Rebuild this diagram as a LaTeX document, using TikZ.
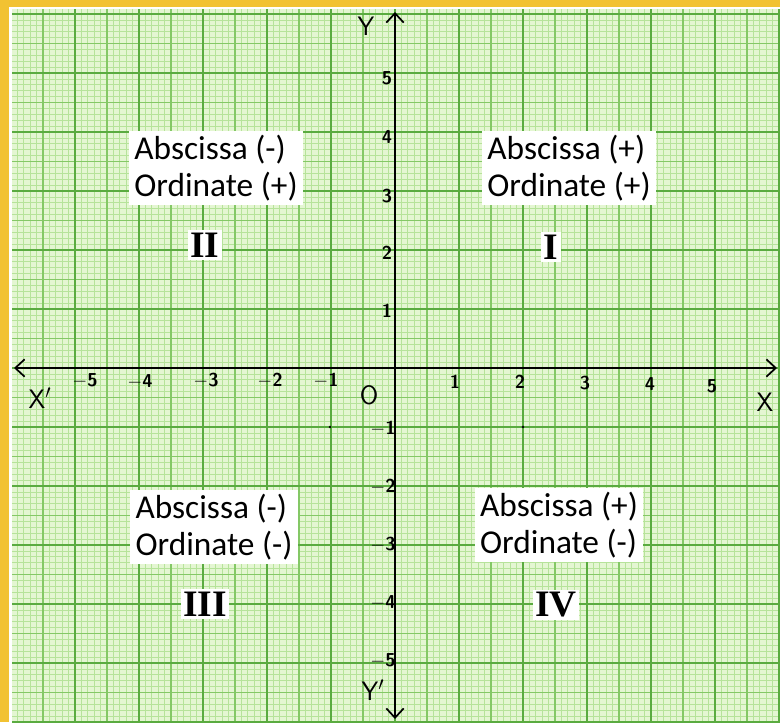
\documentclass[tikz,border=0pt]{standalone}
\usepackage{fontspec}
\setmainfont{Carlito}
\newfontfamily\numfont{Liberation Serif}
\usetikzlibrary{arrows.meta}
\definecolor{paper}{HTML}{E4F6D2}
\definecolor{fineline}{HTML}{B6E39A}
\definecolor{midline}{HTML}{84C866}
\definecolor{majline}{HTML}{5AAB40}
\definecolor{frame}{HTML}{F2C232}
\tikzset{
  fine/.style={fineline, line width=0.6pt},
  mid/.style={midline, line width=0.85pt},
  maj/.style={majline, line width=1.15pt},
  axisline/.style={black, line width=1.6pt, {Straight Barb[length=7pt,width=13pt,line width=1.3pt]}-{Straight Barb[length=7pt,width=13pt,line width=1.3pt]}},
  infobox/.style={fill=white, inner xsep=4pt, inner ysep=3pt, align=left, font=\fontsize{25}{28}\selectfont},
  quad/.style={fill=white, inner sep=2pt, font=\numfont\bfseries\fontsize{28}{28}\selectfont},
  tick/.style={inner sep=0pt, font=\sffamily\bfseries\fontsize{14}{14}\selectfont},
  axlabel/.style={inner sep=0pt, font=\sffamily\fontsize{20}{20}\selectfont}
}
\begin{document}
\begin{tikzpicture}[x=0.75pt,y=-0.75pt]
\useasboundingbox (0,0) rectangle (780,722);
\fill[frame] (0,0) rectangle (780,722);
\fill[white] (9,7) rectangle (780,722);
\fill[paper] (12,9) rectangle (780,722);
\begin{scope}
\clip (12,9) rectangle (780,722);
\foreach \i in {-60,...,60} {\draw[fine] ({395+6.4*\i},0) -- ({395+6.4*\i},722);}
\foreach \j in {-62,...,61} {\draw[fine] (0,{368+5.9*\j}) -- (780,{368+5.9*\j});}
\foreach \i in {-12,...,12} {\draw[mid] ({395+32*\i},0) -- ({395+32*\i},722);}
\foreach \j in {-13,...,12} {\draw[mid] (0,{368+29.5*\j}) -- (780,{368+29.5*\j});}
\foreach \i in {-6,...,6} {\draw[maj] ({395+64*\i},0) -- ({395+64*\i},722);}
\foreach \j in {-6,...,6} {\draw[maj] (0,{368+59*\j}) -- (780,{368+59*\j});}
\end{scope}
% axes
\coordinate (xl) at (14,368);
\coordinate (xr) at (777,368);
\coordinate (yt) at (395,12);
\coordinate (yb) at (395,719);
\draw[axisline] (xl) -- (xr);
\draw[axisline] (yb) -- (yt);
% small marks
\fill (330,427) circle (1.3);
\fill (523,427) circle (1.3);
% axis labels
\node[axlabel] (Y) at (366,26) {Y};
\node[axlabel] (Yp) at (373,690) {Y$'$};
\node[axlabel] (X) at (765,402) {X};
\node[axlabel] (Xp) at (40,398) {X$'$};
\node[axlabel] (O) at (369,395) {O};
% x ticks
\node[tick] (xm5) at (85,381) {$-$5};
\node[tick] (xm4) at (140,382) {$-$4};
\node[tick] (xm3) at (206,381) {$-$3};
\node[tick] (xm2) at (270,381) {$-$2};
\node[tick] (xm1) at (326,381) {$-$1};
\node[tick] (x1) at (455,382) {1};
\node[tick] (x2) at (520,382) {2};
\node[tick] (x3) at (585,383) {3};
\node[tick] (x4) at (650,384) {4};
\node[tick] (x5) at (712,386) {5};
% y ticks
\node[tick] (y5) at (387,78) {5};
\node[tick] (y4) at (387,137) {4};
\node[tick] (y3) at (387,196) {3};
\node[tick] (y2) at (387,253) {2};
\node[tick] (y1) at (387,311) {1};
\node[tick] (ym1) at (383,429) {$-$1};
\node[tick] (ym2) at (383,487) {$-$2};
\node[tick] (ym3) at (383,545) {$-$3};
\node[tick] (ym4) at (383,603) {$-$4};
\node[tick] (ym5) at (383,661) {$-$5};
% quadrant boxes
\node[infobox] (q2) at (216,168) {Abscissa (-)\\Ordinate (+)};
\node[infobox] (q1) at (569,168) {Abscissa (+)\\Ordinate (+)};
\node[infobox] (q3) at (214,527) {Abscissa (-)\\Ordinate (-)};
\node[infobox] (q4) at (559,525) {Abscissa (+)\\Ordinate (-)};
\node[quad] (n2) at (205,245) {II};
\node[quad] (n1) at (551,247) {I};
\node[quad] (n3) at (205,604) {III};
\node[quad] (n4) at (556,605) {IV};
\end{tikzpicture}
\end{document}
